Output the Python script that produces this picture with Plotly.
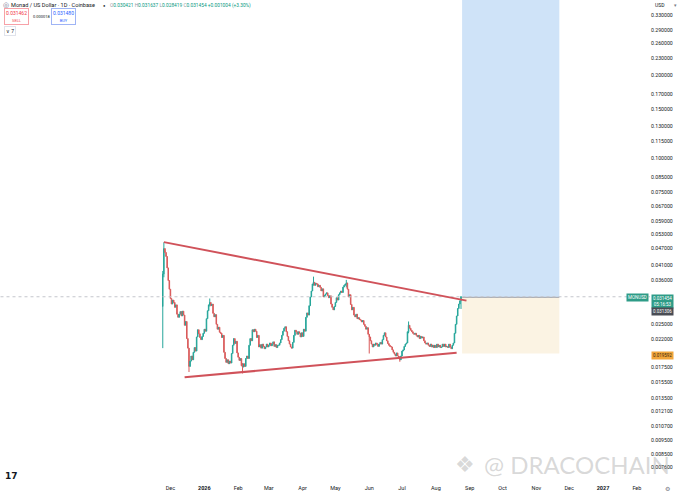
import numpy as np
import pandas as pd
import plotly.graph_objects as go

# daily closes (MON/USD, Coinbase)
nov_2025 = [0.0380, 0.0470, 0.0455, 0.0440, 0.0400, 0.0360, 0.0335]  # from Nov 24
dec_2025 = [0.0310, 0.0296, 0.0306, 0.0300, 0.0288, 0.0294, 0.0272, 0.0265, 0.0272, 0.0278,
            0.0268, 0.0279, 0.0270, 0.0248, 0.0256, 0.0222, 0.0205, 0.0176, 0.0184, 0.0192,
            0.0186, 0.0198, 0.0206, 0.0200, 0.0225, 0.0239, 0.0231, 0.0224, 0.0220, 0.0226, 0.0232]
jan_2026 = [0.0240, 0.0236, 0.0262, 0.0280, 0.0294, 0.0300, 0.0292, 0.0296, 0.0274, 0.0266,
            0.0271, 0.0250, 0.0240, 0.0244, 0.0234, 0.0232, 0.0224, 0.0228, 0.0198, 0.0188,
            0.0182, 0.0186, 0.0180, 0.0184, 0.0181, 0.0196, 0.0210, 0.0222, 0.0213, 0.0217, 0.0197]
feb_2026 = [0.0190, 0.0185, 0.0188, 0.0177, 0.0175, 0.0180, 0.0176, 0.0188, 0.0192, 0.0188,
            0.0210, 0.0222, 0.0218, 0.0239, 0.0235, 0.0240, 0.0236, 0.0224, 0.0228, 0.0207,
            0.0211, 0.0205, 0.0212, 0.0208, 0.0204, 0.0207, 0.0212, 0.0207]
mar_2026 = [0.0210, 0.0214, 0.0209, 0.0212, 0.0216, 0.0208, 0.0211, 0.0206, 0.0210, 0.0210,
            0.0214, 0.0220, 0.0228, 0.0236, 0.0242, 0.0245, 0.0235, 0.0226, 0.0218, 0.0212,
            0.0207, 0.0205, 0.0215, 0.0228, 0.0238, 0.0235, 0.0230, 0.0235, 0.0232, 0.0225, 0.0233]
apr_2026 = [0.0226, 0.0240, 0.0236, 0.0265, 0.0275, 0.0270, 0.0292, 0.0314, 0.0330, 0.0350,
            0.0355, 0.0346, 0.0352, 0.0350, 0.0342, 0.0346, 0.0340, 0.0330, 0.0336, 0.0314,
            0.0318, 0.0322, 0.0325, 0.0318, 0.0312, 0.0317, 0.0296, 0.0288, 0.0282, 0.0290]
may_2026 = [0.0300, 0.0312, 0.0306, 0.0320, 0.0325, 0.0330, 0.0326, 0.0341, 0.0346, 0.0350,
            0.0353, 0.0335, 0.0314, 0.0320, 0.0295, 0.0282, 0.0288, 0.0270, 0.0266, 0.0272,
            0.0262, 0.0264, 0.0260, 0.0259, 0.0255, 0.0258, 0.0250, 0.0246, 0.0240, 0.0243, 0.0230]
jun_2026 = [0.0225, 0.0218, 0.0212, 0.0207, 0.0212, 0.0210, 0.0214, 0.0212, 0.0208, 0.0212,
            0.0215, 0.0212, 0.0220, 0.0228, 0.0233, 0.0225, 0.0218, 0.0213, 0.0210, 0.0208,
            0.0207, 0.0202, 0.0198, 0.0195, 0.0192, 0.0197, 0.0192, 0.0188, 0.0186, 0.0192]
jul_2026 = [0.0200, 0.0202, 0.0208, 0.0212, 0.0214, 0.0235, 0.0248, 0.0242, 0.0238, 0.0235,
            0.0232, 0.0230, 0.0232, 0.0228, 0.0225, 0.0228, 0.0222, 0.0226, 0.0223, 0.0225,
            0.0218, 0.0214, 0.0212, 0.0214, 0.0210, 0.0208, 0.0212, 0.0207, 0.0210, 0.0206, 0.0210]
aug_2026 = [0.0206, 0.0212, 0.0207, 0.0210, 0.0206, 0.0207, 0.0212, 0.0208, 0.0212, 0.0207,
            0.0208, 0.0206, 0.0212, 0.0207, 0.0204, 0.0210, 0.0214, 0.0232, 0.0250, 0.0268,
            0.0285, 0.0296, 0.030421, 0.031454]
first_open = 0.0290

# visible wicks (low, high)
wicks = {
    "2025-11-24": (0.0205, 0.0390),
    "2025-11-25": (0.0370, 0.0495),
    "2025-12-18": (0.0168, 0.0184),
    "2026-01-06": (0.0290, 0.0310),
    "2026-02-05": (0.0166, 0.0181),
    "2026-04-11": (0.0345, 0.0372),
    "2026-05-11": (0.0340, 0.0362),
    "2026-06-01": (0.0196, 0.0228),
    "2026-06-29": (0.0183, 0.0192),
    "2026-07-07": (0.0232, 0.0256),
    "2026-08-24": (0.028419, 0.031637),
}

# trend lines (date, price)
upper_line = [("2025-11-25", 0.0496), ("2026-08-29", 0.03046)]
lower_line = [("2025-12-14", 0.01607), ("2026-08-20", 0.01974)]

# long position tool
entry_price = 0.031306
stop_price = 0.019592
target_price = 1.0
pos_start, pos_end = "2026-08-25", "2026-11-22"
last_price = 0.031454

month_ticks = ["2025-12-01", "2026-01-01", "2026-02-01", "2026-03-01", "2026-04-01", "2026-05-01",
               "2026-06-01", "2026-07-01", "2026-08-01", "2026-09-01", "2026-10-01", "2026-11-01",
               "2026-12-01", "2027-01-01", "2027-02-01"]
month_labels = ["Dec", "<b>2026</b>", "Feb", "Mar", "Apr", "May", "Jun", "Jul", "Aug", "Sep", "Oct",
                "Nov", "Dec", "<b>2027</b>", "Feb"]
price_ticks = [0.33, 0.29, 0.26, 0.23, 0.20, 0.17, 0.15, 0.13, 0.115, 0.10, 0.085, 0.075, 0.067,
               0.059, 0.053, 0.047, 0.041, 0.036, 0.025, 0.022, 0.0175, 0.0155, 0.0135, 0.0121,
               0.0107, 0.0095, 0.0085, 0.0076]

closes = nov_2025 + dec_2025 + jan_2026 + feb_2026 + mar_2026 + apr_2026 + may_2026 + jun_2026 + jul_2026 + aug_2026
dates = pd.date_range("2025-11-24", periods=len(closes), freq="D")
opens = [first_open] + closes[:-1]
highs = [max(o, c) for o, c in zip(opens, closes)]
lows = [min(o, c) for o, c in zip(opens, closes)]
for i, d in enumerate(dates):
    k = d.strftime("%Y-%m-%d")
    if k in wicks:
        lows[i] = min(lows[i], wicks[k][0])
        highs[i] = max(highs[i], wicks[k][1])

W, H = 680, 492
ML, MR, MT, MB = 0, 30, 0, 14
PW, PH = W - ML - MR, H - MT - MB


def px(x):
    return (x - ML) / PW


def py(y):
    return 1 - (y - MT) / PH


fig = go.Figure()

# position boxes
fig.add_trace(go.Scatter(x=[pos_start, pos_end, pos_end, pos_start, pos_start],
                         y=[entry_price, entry_price, target_price, target_price, entry_price],
                         fill="toself", fillcolor="#cfe3f8", mode="lines", line=dict(width=0),
                         hoverinfo="skip", showlegend=False))
fig.add_trace(go.Scatter(x=[pos_start, pos_end, pos_end, pos_start, pos_start],
                         y=[stop_price, stop_price, entry_price, entry_price, stop_price],
                         fill="toself", fillcolor="#fbf3e3", mode="lines", line=dict(width=0),
                         hoverinfo="skip", showlegend=False))
fig.add_trace(go.Scatter(x=[pos_start, pos_end], y=[entry_price, entry_price], mode="lines",
                         line=dict(color="#a0a3aa", width=1), hoverinfo="skip", showlegend=False))

# last price dotted line
fig.add_trace(go.Scatter(x=["2025-06-01", "2027-03-01"], y=[last_price, last_price], mode="lines",
                         line=dict(color="#c4c6cc", width=1, dash="dot"), hoverinfo="skip", showlegend=False))

fig.add_trace(go.Candlestick(
    x=dates, open=opens, high=highs, low=lows, close=closes,
    increasing=dict(line=dict(color="#26a69a", width=1), fillcolor="#26a69a"),
    decreasing=dict(line=dict(color="#d95a5a", width=1), fillcolor="#d95a5a"),
    whiskerwidth=0, hoverinfo="skip", showlegend=False))

for line in (upper_line, lower_line):
    fig.add_trace(go.Scatter(x=[p[0] for p in line], y=[p[1] for p in line], mode="lines",
                             line=dict(color="#d0525a", width=2), hoverinfo="skip", showlegend=False))

ann = []
base = dict(xref="paper", yref="paper", showarrow=False, font=dict(family="Roboto", size=6, color="#131722"))


def add(x, y, text, xanchor="left", yanchor="middle", **kw):
    a = dict(base)
    a.update(x=px(x), y=py(y), text=text, xanchor=xanchor, yanchor=yanchor)
    if "font" in kw:
        f = dict(base["font"])
        f.update(kw.pop("font"))
        a["font"] = f
    a.update(kw)
    ann.append(a)


# header
add(1, 5, "◎", font=dict(size=7, color="#6e6e8a"))
add(9, 5, "Monad / US Dollar · 1D · Coinbase", font=dict(size=5.6))
add(101, 5, "●", font=dict(size=4, color="#131722"))
g = "#089981"
s = "#9598a1"
ohlc = (f"<span style='color:{s}'>O</span><span style='color:{g}'>0.030421</span> "
        f"<span style='color:{s}'>H</span><span style='color:{g}'>0.031637</span> "
        f"<span style='color:{s}'>L</span><span style='color:{g}'>0.028419</span> "
        f"<span style='color:{s}'>C</span><span style='color:{g}'>0.031454</span> "
        f"<span style='color:{g}'>+0.001004 (+3.30%)</span>")
add(108, 5, ohlc, font=dict(size=4.8))
add(4, 17, "<span style='color:#f23645'>0.031462</span><br><span style='color:#f23645;font-size:4px'>SELL</span>",
    bordercolor="#f7a1a8", borderwidth=1, borderpad=1, bgcolor="white", font=dict(size=5))
add(42, 17, "0.000018", xanchor="center", font=dict(size=4, color="#131722"))
add(51, 17, "<span style='color:#2962ff'>0.031480</span><br><span style='color:#2962ff;font-size:4px'>BUY</span>",
    bordercolor="#9fb4f5", borderwidth=1, borderpad=1, bgcolor="white", font=dict(size=5))
add(4, 31, "∨ 7", font=dict(size=5), bordercolor="#e0e3eb", borderwidth=1, borderpad=1)
add(653, 5, "USD", font=dict(size=5))
add(679, 5, "▾", xanchor="right", font=dict(size=5, color="#787b86"))

# right side price labels
add(649, 297.5, "MONUSD", xanchor="right", bgcolor="#2e9c87", font=dict(size=4.5, color="white"), borderpad=1)
add(651, 301, "0.031454<br>05:16:53", bgcolor="#2e9c87", font=dict(size=4.5, color="white"), borderpad=1)
add(651, 311, "0.031306", bgcolor="#4a4d55", font=dict(size=4.5, color="white"), borderpad=1)
add(651, 355.5, "0.019592", bgcolor="#f2a53a", font=dict(size=4.5, color="#3a2a10"), borderpad=1)

# footer
add(3, 476, "<b>17</b>", font=dict(size=9, family="DejaVu Sans", color="#131722"))
add(667, 488, "⚙", xanchor="center", font=dict(size=6, color="#787b86"))

# watermark
add(465, 464, "❖", xanchor="center", font=dict(size=22, family="DejaVu Sans", color="rgba(170,170,170,0.45)"))
add(482, 464, "@ DRACOCHAIN", font=dict(size=24, family="Lato", color="rgba(170,170,170,0.45)"))

fig.update_layout(
    width=W, height=H,
    margin=dict(l=ML, r=MR, t=MT, b=MB),
    paper_bgcolor="white", plot_bgcolor="white",
    annotations=ann,
    xaxis=dict(type="date", range=["2025-06-28", "2027-02-13"], rangeslider=dict(visible=False),
               tickvals=month_ticks, ticktext=month_labels, showgrid=False, zeroline=False,
               showline=False, ticks="", automargin=False, ticklabelstandoff=5,
               tickfont=dict(family="Roboto", size=5.5, color="#131722")),
    yaxis=dict(type="log", side="right", range=[np.log10(0.006946), np.log10(0.373)],
               tickvals=price_ticks, ticktext=[f"{v:.6f}" for v in price_ticks],
               showgrid=False, zeroline=False, showline=False, ticks="", automargin=False,
               tickfont=dict(family="Roboto", size=5.2, color="#131722")),
)

fig.write_html("out.html", config={"displayModeBar": False},
               post_script="document.body.style.margin='0';")
